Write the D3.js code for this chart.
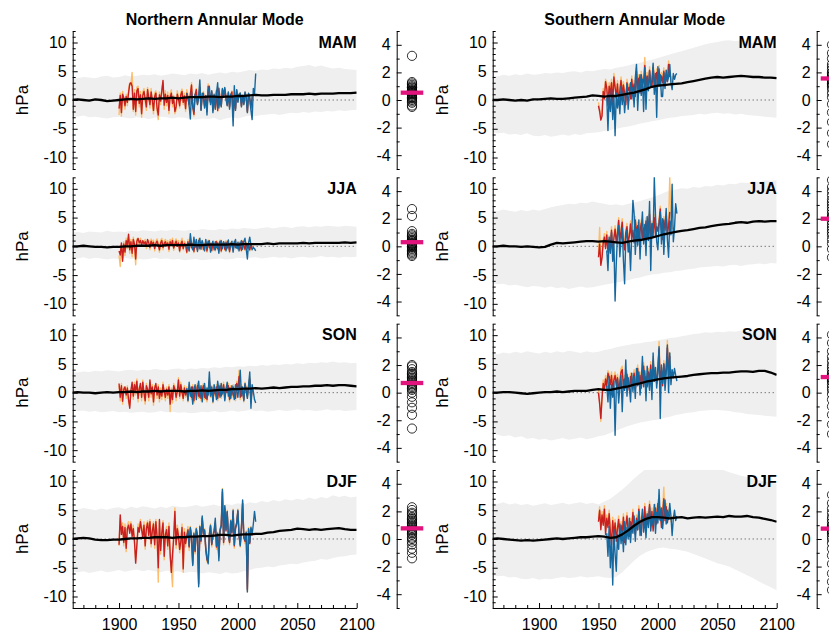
<!DOCTYPE html>
<html>
<head>
<meta charset="utf-8">
<script src="https://cdn.jsdelivr.net/npm/d3@7"></script>
<style>
body { margin: 0; background: #fff; }
text { font-family: "Liberation Sans", Arial, sans-serif; }
</style>
</head>
<body>
<script>
// ---- labels ----
var modes = ['Northern Annular Mode', 'Southern Annular Mode'];
var seasons = ['MAM', 'JJA', 'SON', 'DJF'];
var xTickLabels = [1900, 1950, 2000, 2050, 2100];

// model envelope / ensemble mean, every 5 years 1860..2100
var envYears = d3.range(1860, 2101, 5);

// start years of observed series
var namRedStart = 1900, namBlueStart = 1957;
var samRedStart = 1950, samBlueStart = 1957;

// ---------- NAM MAM ----------
var namMamMean = [0.0,0.1,0.0,-0.1,0.1,0.0,-0.2,-0.1,0.0,0.1, 0.2,0.1,0.2,0.3,0.2,0.3,0.3,0.4,0.3,0.4, 0.5,0.5,0.5,0.6,0.6,0.5,0.6,0.6,0.7,0.7, 0.8,0.9,0.8,0.8,0.9,0.9,0.9,1.0,1.0,1.0, 1.1,1.0,1.1,1.1,1.1,1.2,1.2,1.2,1.3];
var namMamUpper = [3.9,3.8,4.0,3.9,3.8,4.1,4.2,3.9,4.0,4.3, 4.1,4.2,4.4,4.3,4.5,4.2,4.4,4.6,4.5,4.3, 4.6,4.5,4.7,4.4,4.6,4.8,4.6,4.9,4.8,5.0, 5.2,5.1,5.3,5.2,5.5,5.4,5.6,5.5,5.8,5.9, 6.1,5.8,6.0,5.7,5.5,5.6,5.4,5.3,5.2];
var namMamLower = [-2.8,-2.9,-2.7,-3.0,-2.9,-3.1,-3.2,-3.0,-2.9,-3.1, -3.2,-3.0,-3.1,-3.3,-3.1,-2.9,-3.0,-3.2,-3.0,-3.1, -3.3,-3.4,-3.2,-3.3,-3.1,-3.5,-3.2,-3.0,-3.2,-2.9, -2.7,-2.8,-2.6,-2.5,-2.4,-2.6,-2.4,-2.2,-2.3,-2.1, -2.2,-2.0,-2.1,-1.9,-2.0,-1.8,-1.9,-1.8,-1.7];
var namMamRed = [-1.5,0.8,-2.2,1.0,0.4,-1.0,0.6,-0.4,1.2,2.8, 3.0,2.4,-1.6,1.2,-2.0,1.6,2.0,-0.6,0.9,-2.4, 0.8,1.5,0.2,-1.2,1.8,0.4,-0.8,1.4,0.0,-1.8, 0.6,1.2,-1.4,-2.6,0.9,-0.2,1.6,3.4,-0.9,1.0, -0.4,0.8,-1.8,0.5,1.2,-0.6,0.3,-2.0,-1.2,1.0, 0.2,-1.0,0.9,1.5,-0.4,0.7,-1.5,1.2,0.3,-0.8, 1.0,2.6,-1.0,-2.5,0.8,1.8,-0.6,0.4,2.2,-1.6, 0.6,1.2,-1.0,0.5,-2.0,2.4,0.2,-0.5,1.4,-1.8, 0.8,-1.4,1.6,-1.8,2.0,0.2,-1.0,1.8,0.6,1.8, 0.4,-0.8,1.2,-1.2,0.8,1.4,-2.8,0.6,-1.5,1.6, -0.2,0.8,1.0,-1.0,0.6,-0.6,1.2,0.4,-2.0,1.0, 0.2,-1.4,0.6];
var namMamOrange = [-2.6,1.2,-2.8,1.5,0.0,-1.6,1.0,-1.0,1.8,3.0, 2.6,4.8,-2.0,1.8,-2.6,2.2,2.4,-1.2,1.5,-3.0, 1.4,2.0,-0.4,-1.8,2.2,1.0,-1.4,2.0,-0.6,-2.4, 1.2,1.6,-2.0,-3.4,1.4,-0.8,2.0,3.0,-1.6,1.6, -1.0,1.4,-2.4,1.0,1.8,-1.2,0.8,-2.4,-1.8,1.6, 0.6,-1.4,1.4,1.9,-0.8,1.2,-2.0,1.8,0.8,-1.2, 1.2,3.0,-1.2,-2.8,1.0,2.0,-0.8,0.6,2.8,-1.8, 0.8,1.5,-1.2,0.6,-2.2,2.8,0.4,-0.6,1.6,-2.0, 1.0,-1.6,1.8,-2.0,2.2,0.4,-1.2,2.0,0.8,2.0, 0.6,-1.0,1.4,-1.4,1.0,1.6,-3.0,0.8,-1.7,1.8, 0.0,1.0,1.2,-1.2,0.8,-0.8,1.4,0.6,-2.2,1.2, 0.4,-1.6,0.8];
var namMamBlue = [1.2,0.4,-1.0,-3.3,1.4,-1.2,-2.0,1.0,0.6,-0.8, 0.6,3.5,-1.8,1.2,0.4,-1.4,0.8,-2.6,1.6,2.4, -0.8,1.6,-2.2,1.0,-1.6,1.2,3.0,-1.4,0.2,-1.2, 2.0,0.8,2.2,0.2,-1.0,1.4,-1.6,1.0,0.6,-4.5, 2.5,-1.8,1.8,-0.4,1.0,1.2,-1.2,0.8,-0.8,1.4, 0.6,-2.2,1.2,0.4,-1.8,-3.4,2.0,1.0,4.6];
var namMamModels = [3.2,1.3,1.2,1.1,1.0,0.9,0.9,0.8,0.7,0.7,0.6,0.6,0.5,0.5,0.4,0.4,0.3,0.2,0.2,0.1,0.0,-0.1,-0.2,-0.4,-0.5];

// ---------- NAM JJA ----------
var namJjaMean = [0.0,0.0,0.1,0.0,-0.1,-0.1,-0.2,-0.1,-0.1,0.0, 0.0,0.1,0.1,0.1,0.2,0.1,0.2,0.2,0.2,0.2, 0.3,0.2,0.2,0.3,0.3,0.3,0.3,0.4,0.3,0.4, 0.4,0.4,0.4,0.5,0.4,0.5,0.5,0.5,0.5,0.6, 0.5,0.6,0.6,0.6,0.6,0.6,0.7,0.6,0.7];
var namJjaUpper = [2.4,2.5,2.3,2.6,2.5,2.4,2.7,2.5,2.6,2.5, 2.7,2.6,2.8,2.7,2.6,2.8,2.7,2.9,2.8,2.7, 2.9,2.8,3.0,2.9,2.8,3.0,2.9,3.1,3.0,3.2, 3.1,3.0,3.2,3.3,3.1,3.3,3.4,3.2,3.4,3.5, 3.3,3.5,3.4,3.6,3.5,3.4,3.6,3.5,3.4];
var namJjaLower = [-2.0,-2.1,-1.9,-2.2,-2.0,-2.1,-2.3,-2.1,-2.2,-2.0, -2.2,-2.1,-2.3,-2.2,-2.0,-2.2,-2.1,-2.3,-2.2,-2.4, -2.3,-2.2,-2.4,-2.3,-2.2,-2.1,-2.3,-2.2,-2.0,-2.1, -2.0,-1.9,-2.1,-2.0,-1.8,-2.0,-1.9,-2.1,-1.9,-1.8, -2.0,-1.9,-1.7,-1.9,-1.8,-2.0,-1.8,-1.9,-1.8];
var namJjaRed = [-0.8,-1.5,0.6,-2.6,0.4,-1.0,1.0,0.2,2.1,-0.6, 0.8,-1.2,1.2,0.4,-2.2,0.9,1.4,0.6,1.0,0.2, 1.0,0.4,0.8,0.0,1.2,0.6,-0.2,0.9,0.3,0.7, -0.4,0.5,0.9,0.2,-0.6,0.6,1.0,-0.2,0.5,0.8, 0.1,0.6,-0.5,0.8,0.2,1.0,-0.3,0.4,0.9,0.0, 0.6,-0.8,0.4,0.9,-0.4,0.5,0.2,-1.0,0.8,-0.6, 1.0,-0.2,0.4,-0.9,0.6,0.2,-0.6,1.0,-0.4,0.3, 0.8,-0.5,0.2,0.6,-0.8,0.9,-0.2,0.4,-0.7,0.5, 0.1,-0.6,0.8,-0.4,0.3,0.9,-0.8,0.2,0.6,-0.5, 0.7,-0.3,0.4,-0.9,0.5,0.1,-0.6,0.8,-0.2,0.3, -0.4,0.6,0.0,-0.7,0.8,0.2,-0.5,0.5,-0.3,0.4, -0.6,0.2,-0.2];
var namJjaOrange = [-1.6,-3.5,0.2,-2.2,0.8,-1.6,1.4,-0.4,1.6,-1.2, 1.2,-1.8,1.6,-0.2,-3.2,1.3,1.0,0.2,1.4,0.6, 0.6,0.8,1.2,-0.4,0.8,1.0,-0.6,1.3,0.7,1.1, -0.8,0.9,1.3,0.6,-1.0,1.0,1.4,-0.6,0.9,1.2, 0.5,1.0,-0.9,1.2,0.6,1.4,-0.7,0.8,1.3,0.4, 1.0,-1.0,0.8,1.4,-0.6,0.9,0.6,-1.2,1.2,-0.8, 1.2,-0.4,0.6,-1.1,0.9,0.4,-0.8,1.3,-0.6,0.5, 1.0,-0.7,0.4,0.8,-1.0,1.1,-0.4,0.6,-0.9,0.7, 0.3,-0.8,1.0,-0.6,0.5,1.1,-1.0,0.4,0.8,-0.7, 1.0,-0.5,0.6,-1.1,0.7,0.3,-0.8,1.0,-0.4,0.5, -0.6,0.8,0.2,-0.9,1.0,0.4,-0.7,0.7,-0.5,0.6, -0.8,0.4,0.0];
var namJjaBlue = [-0.4,0.6,-0.8,2.2,0.4,-0.6,1.6,-0.2,1.2,-0.9, 0.8,1.4,-0.5,1.0,0.2,-0.8,1.2,-0.4,0.6,1.0, -1.0,0.4,0.9,-0.6,0.8,-0.2,0.6,-1.2,0.5,1.0, -0.4,0.8,0.2,-0.8,0.6,1.1,-0.6,0.4,0.9,-1.0, 0.5,1.2,-0.3,0.7,-0.8,0.4,1.0,-0.5,0.8,1.4, -0.4,-2.2,0.6,1.6,0.2,-0.6,-0.2,-0.4,-0.8];
var namJjaModels = [2.7,2.2,1.1,0.9,0.8,0.7,0.6,0.5,0.4,0.4,0.3,0.2,0.2,0.1,0.1,0.0,0.0,-0.1,-0.2,-0.3,-0.4,-0.5,-0.6,-0.7];

// ---------- NAM SON ----------
var namSonMean = [0.0,0.1,0.0,0.0,-0.1,0.0,0.1,0.0,0.1,0.1, 0.2,0.1,0.2,0.2,0.3,0.2,0.3,0.3,0.3,0.2, 0.3,0.3,0.4,0.3,0.4,0.5,0.5,0.6,0.6,0.7, 0.7,0.8,0.7,0.8,0.9,0.8,0.9,1.0,1.0,1.1, 1.1,1.2,1.2,1.3,1.2,1.3,1.3,1.2,1.1];
var namSonUpper = [3.6,3.5,3.7,3.6,3.8,3.7,3.9,3.8,3.7,3.9, 4.0,3.8,4.0,3.9,4.1,4.0,3.9,4.1,4.2,4.0, 4.2,4.1,4.3,4.2,4.4,4.3,4.5,4.4,4.6,4.5, 4.7,4.6,4.8,4.7,4.9,4.8,5.0,4.9,5.1,5.0, 5.2,5.1,5.3,5.2,5.4,5.2,5.3,5.1,5.2];
var namSonLower = [-3.0,-3.2,-3.1,-3.3,-3.2,-3.4,-3.3,-3.2,-3.4,-3.3, -3.5,-3.4,-3.3,-3.5,-3.4,-3.2,-3.4,-3.3,-3.5,-3.4, -3.6,-3.5,-3.3,-3.4,-3.2,-3.4,-3.3,-3.1,-3.3,-3.2, -3.0,-3.2,-3.1,-3.3,-3.2,-3.0,-3.2,-3.1,-2.9,-3.1, -3.0,-3.2,-3.1,-2.9,-3.1,-3.0,-3.2,-3.1,-3.0];
var namSonRed = [1.6,-0.8,1.2,-1.5,0.6,1.0,-0.4,0.8,-1.2,-2.7, 0.4,1.8,-0.6,1.4,0.2,2.0,-1.0,0.6,1.6,-0.8, 1.8,0.0,-1.4,1.2,0.6,-0.8,2.2,-0.2,1.0,-1.6, 0.8,1.6,-0.4,1.0,-1.0,0.4,-0.6,1.4,0.2,-0.8, 0.6,-0.4,1.0,-2.0,0.4,-1.2,1.2,0.6,-0.8,0.2, 2.2,-0.6,1.4,0.0,-1.0,0.8,-0.4,0.6,-1.2,1.0, 0.2,-0.8,1.0,-1.4,0.6,0.0,1.2,-0.6,0.8,-1.0, 0.4,1.2,-0.8,0.6,-1.2,0.2,2.0,-0.4,0.8,-1.4, 0.6,-0.2,1.0,-1.0,0.4,1.2,-0.6,0.2,1.4,-0.8, 0.6,0.0,1.2,-1.2,0.8,-0.4,1.0,0.2,-1.0,1.6, 0.4,2.8,-0.8,1.0,0.2,-1.2,1.4,0.6,-0.6,1.0, 2.4,-1.4,0.6];
var namSonOrange = [1.2,-1.4,1.6,-2.0,1.0,0.6,-1.0,1.2,-1.8,-2.2, 0.0,1.4,-1.2,1.8,-0.4,2.4,-1.6,1.0,1.2,-1.4, 2.2,-0.6,-2.0,1.6,0.2,-1.4,1.8,-0.8,1.4,-2.2, 1.2,1.2,-1.0,1.4,-1.6,0.8,-1.2,1.8,-0.4,-1.4, 1.0,-1.0,1.4,-3.3,0.8,-1.8,1.6,1.0,-1.4,0.6, 2.6,-1.0,1.8,0.4,-1.4,1.2,-0.8,1.0,-1.6,1.4, 0.6,-1.2,1.4,-1.8,1.0,0.4,1.6,-1.0,1.2,-1.4, 0.8,1.6,-1.2,1.0,-1.6,0.6,2.6,-0.8,1.2,-1.8, 1.0,-0.6,1.4,-1.4,0.8,1.6,-1.0,0.6,1.8,-1.2, 1.0,0.4,1.6,-1.6,1.2,-0.8,1.4,0.6,-1.4,2.0, 0.8,3.9,-1.2,1.4,0.6,-1.6,1.8,1.0,-1.0,1.4, 2.8,-1.8,1.0];
var namSonBlue = [0.8,-1.4,1.8,-0.6,1.0,-2.0,0.4,1.4,-1.2,0.6, 2.0,-0.8,1.2,-1.6,0.4,1.6,-1.0,0.8,-0.4,3.6, -0.6,1.0,-1.6,1.4,0.2,-1.2,2.0,0.4,-0.8,1.6, -0.2,1.0,-1.4,0.6,1.8,-0.6,0.8,-1.0,1.2,0.0, -1.2,1.4,0.4,-0.8,1.2,3.9,-0.6,1.0,-1.4,1.6, 0.2,-1.0,1.2,3.6,-2.7,1.4,0.2,-1.2,-1.8];
var namSonModels = [2.0,1.9,1.7,1.5,1.4,1.3,1.2,1.1,1.0,0.9,0.8,0.7,0.6,0.5,0.4,0.3,0.2,0.0,-0.3,-0.7,-1.1,-1.6,-2.6];

// ---------- NAM DJF ----------
var namDjfMean = [0.0,0.1,0.2,0.1,-0.1,-0.2,-0.2,-0.1,-0.1,0.0, 0.1,0.1,0.2,0.2,0.3,0.3,0.3,0.2,0.3,0.3, 0.4,0.4,0.5,0.5,0.6,0.7,0.7,0.6,0.7,0.8, 0.8,0.9,0.9,1.1,1.2,1.4,1.5,1.6,1.8,1.7, 1.6,1.7,1.6,1.7,1.8,1.9,1.7,1.6,1.6];
var namDjfUpper = [5.3,5.1,5.4,5.2,5.0,5.3,5.1,5.4,5.5,5.2, 5.6,5.4,5.7,5.5,5.3,5.6,5.4,5.8,5.6,5.5, 5.7,5.9,5.6,5.8,6.0,5.7,6.1,5.9,6.2,6.0, 6.4,6.2,6.6,6.4,6.8,6.5,6.9,6.7,7.0,6.8, 7.2,6.9,7.3,7.1,7.6,7.3,7.5,7.2,7.4];
var namDjfLower = [-5.7,-5.8,-5.6,-5.9,-5.7,-5.5,-5.8,-5.6,-5.4,-5.7, -5.5,-5.3,-5.6,-5.4,-5.6,-5.8,-5.5,-5.7,-5.6,-5.9, -5.7,-5.8,-6.0,-5.8,-5.9,-6.1,-5.8,-6.0,-5.9,-5.6, -5.4,-5.1,-5.0,-4.8,-4.9,-4.6,-4.5,-4.3,-4.4,-4.1, -3.9,-3.8,-3.5,-3.6,-3.3,-3.1,-3.0,-2.8,-2.7];
var namDjfRed = [-1.0,4.2,0.8,2.2,-0.6,2.0,-1.6,1.8,2.4,1.0, 2.6,0.4,1.8,-0.4,-4.2,-1.0,2.0,1.2,3.0,1.6, 0.2,2.4,-1.2,1.8,2.8,0.6,3.0,-0.8,1.4,2.6, -1.0,3.0,0.4,-5.0,3.4,-2.0,1.0,2.8,-3.0,0.8, 1.6,-1.2,2.2,-2.6,-5.8,-2.6,0.2,4.8,-1.0,1.8, 0.6,-1.8,-0.4,2.0,-5.2,1.2,-0.8,0.4,1.6,-1.4, 1.8,0.2,-4.4,0.8,-2.2,1.6,0.4,-7.8,2.0,-0.4, 3.6,0.8,1.4,-1.8,-3.6,-4.0,0.6,2.2,-1.0,0.4, 1.2,2.8,-1.4,0.8,-3.0,1.4,2.2,8.2,-0.6,5.4, 1.4,4.6,0.6,-0.6,3.0,1.0,4.8,-1.2,1.8,2.6, 4.8,0.4,-1.0,1.8,6.2,0.2,-0.4,1.0,-8.8,1.6, -0.8,1.8,0.6];
var namDjfOrange = [-1.2,3.6,1.6,2.8,-1.2,2.6,-2.2,2.4,3.0,1.6, 3.0,1.0,2.4,-1.0,-3.6,-1.6,2.6,1.8,3.4,2.2, 0.8,3.0,-1.8,2.4,3.2,1.2,3.4,-1.4,2.0,3.0, -1.6,3.4,1.0,-7.5,3.0,-2.6,1.6,3.2,-3.6,1.4, 2.2,-1.8,2.8,-3.2,-5.4,-8.3,0.8,5.4,-1.6,2.4, 1.2,-2.4,-1.0,2.6,-5.8,1.8,-1.4,1.0,2.2,-2.0, 2.2,0.6,-4.0,1.2,-2.6,2.0,0.8,-8.0,2.4,-0.8, 3.8,1.2,1.8,-2.2,-4.0,-3.6,1.0,2.6,-1.4,0.8, 1.6,3.2,-1.8,1.2,-3.4,1.8,2.6,8.8,-1.0,5.8, 1.8,5.0,1.0,-1.0,3.4,1.4,5.2,-1.6,2.2,3.0, 5.2,0.8,-1.4,2.2,6.6,0.6,-0.8,1.4,-9.2,2.0, -0.4,2.2,1.0];
var namDjfBlue = [0.2,1.4,-1.2,2.0,0.4,-4.6,1.0,-2.0,1.8,0.6, -8.3,2.2,-0.2,4.0,1.0,1.6,-1.6,-3.4,-4.3,0.8, 2.4,-0.8,0.6,1.4,3.6,-1.2,1.0,-3.8,1.6,2.4, 8.6,-0.4,5.8,1.6,4.8,0.8,-0.4,3.2,1.2,5.0, -1.0,2.0,2.8,5.0,0.6,-1.2,2.0,6.8,0.4,-0.2, 1.2,-9.2,1.8,-0.6,2.0,0.8,2.6,4.8,3.0];
var namDjfModels = [2.3,2.1,1.9,1.8,1.6,1.5,1.4,1.3,1.2,1.1,1.0,0.9,0.8,0.7,0.6,0.5,0.4,0.3,0.1,0.0,-0.2,-0.4,-0.7,-1.0,-1.4];

// ---------- SAM MAM ----------
var samMamMean = [0.0,0.0,0.1,0.0,-0.1,0.0,-0.1,0.1,0.1,0.2, 0.3,0.2,0.2,0.3,0.4,0.5,0.6,0.8,0.7,0.6, 0.7,0.7,0.9,1.1,1.3,1.6,1.9,2.3,2.5,2.6, 2.7,2.8,2.9,3.1,3.3,3.5,3.7,3.9,4.0,3.9, 4.0,4.1,4.2,4.1,4.0,4.0,3.9,3.9,3.8];
var samMamUpper = [4.3,4.1,4.4,4.2,4.5,4.3,4.6,4.4,4.5,4.7, 4.6,4.8,4.7,4.9,5.0,4.8,5.1,5.0,5.2,5.4, 5.3,5.6,5.8,6.0,6.3,6.5,6.8,7.0,7.3,7.6, 7.9,8.2,8.5,8.8,9.1,9.4,9.7,9.9,10.1,10.3, 10.4,10.2,10.4,10.1,9.9,9.7,9.6,9.4,9.2];
var samMamLower = [-5.6,-5.8,-5.7,-6.0,-5.9,-6.1,-5.8,-6.2,-6.3,-6.1, -6.4,-6.2,-6.0,-6.2,-5.9,-6.1,-5.8,-5.7,-5.6,-5.4, -5.2,-5.0,-4.8,-4.6,-4.4,-4.1,-3.9,-3.7,-3.5,-3.3, -3.1,-3.0,-2.8,-2.7,-2.6,-2.4,-2.5,-2.3,-2.2,-2.4, -2.3,-2.5,-2.4,-2.6,-2.7,-2.8,-2.9,-3.0,-3.1];
var samMamRed = [-1.0,-2.0,-3.5,-2.8,1.5,0.2,3.2,2.0,-1.0,2.4, 1.0,3.0,-0.6,4.0,2.2,0.4,2.8,-0.4,1.6,3.4, 0.8,2.6,1.2,-0.8,3.0,1.6,2.2,0.2,3.6,1.4, 2.8,0.6,5.0,2.0,3.8,1.2,4.4,2.6,3.2,6.0, 2.4,4.2,1.8,5.2,3.0,2.2,5.6,3.6,2.0,4.8, 3.4,5.4,2.6,4.2,3.0,5.0,2.4,4.6,3.2,6.2, 4.0];
var samMamOrange = [-0.4,-1.6,-3.0,-2.2,2.0,0.8,3.6,2.6,-0.4,3.0, 1.6,3.6,0.0,4.6,2.8,1.0,3.4,0.2,2.2,4.0, 1.4,3.2,1.8,-0.2,3.6,2.2,2.8,0.8,4.2,2.0, 3.4,1.2,5.6,2.6,4.4,1.8,5.0,3.2,3.8,7.4, 3.0,4.8,2.4,5.8,3.6,2.8,6.2,4.2,2.6,5.4, 4.0,6.0,3.2,4.8,3.6,5.6,3.0,5.2,3.8,6.8, 4.6,3.0,4.2];
var samMamBlue = [0.4,-5.3,1.0,-2.0,1.8,-3.4,0.8,-6.2,1.2,-1.4, 0.6,-2.4,2.4,-0.8,1.6,-2.2,0.4,2.8,-1.6,1.4, 3.0,0.2,2.2,-1.2,3.8,6.2,-1.8,2.6,4.4,0.8, 3.6,-2.0,5.6,-1.6,4.0,1.6,5.0,2.2,3.4,6.4, 1.0,4.6,-3.0,5.8,2.4,4.4,0.6,0.6,4.8,2.0, 5.2,3.2,4.0,6.2,3.0,1.8,4.6,3.6,4.4,4.6];
var samMamModels = [4.0,3.4,3.0,2.6,2.4,2.2,2.0,1.9,1.8,1.7,1.6,1.5,1.4,1.3,1.2,1.1,1.0,0.8,0.5,0.2,-0.3,-0.9,-1.6,-2.4,-3.2];

// ---------- SAM JJA ----------
var samJjaMean = [0.0,0.0,0.1,0.0,0.0,-0.1,0.0,-0.1,-0.2,-0.1, 0.3,0.6,0.5,0.6,0.7,0.8,0.9,0.9,0.8,0.9, 0.8,0.7,0.6,0.8,1.0,1.1,1.3,1.5,1.8,2.1, 2.3,2.5,2.7,2.8,3.0,3.2,3.3,3.5,3.7,3.8, 3.9,4.1,4.2,4.1,4.3,4.4,4.3,4.4,4.4];
var samJjaUpper = [6.3,6.1,6.4,6.2,6.0,6.3,6.1,6.4,6.2,6.5, 6.8,7.0,7.2,7.4,7.3,7.6,7.5,7.8,7.6,7.4, 7.2,7.3,7.1,7.4,7.6,7.9,8.2,8.5,8.9,9.3, 9.7,9.9,10.1,10.0,10.3,10.2,10.5,10.4,10.7,10.6, 10.9,10.8,11.1,11.0,11.3,11.2,11.5,11.4,11.5];
var samJjaLower = [-6.4,-6.6,-6.5,-6.8,-6.7,-6.9,-7.1,-6.9,-7.0,-7.2, -7.0,-7.3,-7.1,-7.4,-7.2,-7.0,-7.2,-7.1,-6.9,-6.7, -6.5,-6.3,-6.1,-5.9,-5.6,-5.4,-5.1,-4.9,-4.8,-4.6, -4.5,-4.3,-4.2,-4.0,-3.9,-3.7,-3.6,-3.5,-3.4,-3.5, -3.3,-3.2,-3.4,-3.2,-3.1,-3.0,-3.1,-2.9,-3.0];
var samJjaRed = [-1.9,0.4,-3.3,-2.0,0.6,1.6,-0.4,2.0,-1.0,1.2, 0.2,2.8,-0.8,1.4,3.0,0.6,2.2,4.5,1.0,2.6, 4.2,0.8,-0.6,2.4,3.4,0.4,1.8,3.9,1.2,2.8, 0.6,4.6,2.2,3.6,1.0,2.6,4.0,1.4,3.2,2.0, 4.4,1.6,3.0,5.6,0.8,3.8,2.4,5.0,1.8,3.4, 2.6,4.2,6.5,3.0,1.2,4.6,2.8,5.2,2.0,3.6, 6.0];
var samJjaOrange = [-1.2,3.3,-2.8,-1.4,1.2,2.2,0.2,2.6,-0.4,1.8, 0.8,3.4,-0.2,2.0,3.6,1.2,2.8,5.0,1.6,3.2, 4.8,1.4,0.0,3.0,4.0,1.0,2.4,4.4,1.8,3.4, 1.2,5.2,2.8,4.2,1.6,3.2,4.6,2.0,3.8,2.6, 5.0,2.2,3.6,6.2,1.4,4.4,3.0,5.6,2.4,4.0, 3.2,4.8,7.0,3.6,1.8,5.2,3.4,5.8,2.6,4.2, 12.0,5.0,3.0];
var samJjaBlue = [-0.7,-4.2,1.6,-1.2,2.4,-2.6,0.8,-9.5,-3.0,2.0, 3.6,-1.8,1.2,3.2,-2.4,-6.5,1.4,2.8,-1.0,0.6, -4.2,2.0,8.0,5.7,-1.4,3.0,0.2,4.6,-2.2,2.8, 6.0,0.4,3.8,-1.6,5.2,1.0,7.8,-4.2,4.0,1.6, 12.0,5.4,0.8,-0.6,3.6,6.0,0.4,4.8,-1.4,3.2, 6.6,1.2,-1.9,4.4,2.0,10.8,0.8,3.2,7.4,5.7];
var samJjaModels = [4.8,4.3,4.0,3.7,3.4,3.2,3.0,2.8,2.6,2.4,2.2,2.1,2.0,1.8,1.6,1.4,1.2,1.0,0.8,0.5,0.2,-0.2,-0.8];

// ---------- SAM SON ----------
var samSonMean = [0.0,0.0,0.1,0.1,0.0,-0.1,-0.2,-0.1,0.0,0.1, 0.1,0.2,0.1,0.2,0.3,0.3,0.3,0.5,0.6,0.5, 0.5,0.7,0.9,1.1,1.4,1.6,1.9,2.1,2.3,2.5, 2.6,2.7,2.8,2.9,3.1,3.2,3.3,3.4,3.4,3.5, 3.5,3.6,3.7,3.7,3.6,3.8,3.8,3.5,3.1];
var samSonUpper = [6.9,6.7,7.0,6.8,7.1,6.9,7.2,7.0,6.8,7.1, 6.9,7.2,7.0,7.3,7.1,6.9,7.2,7.0,7.1,7.4, 7.6,7.9,8.1,8.3,8.5,8.6,8.8,8.9,9.1,9.3, 9.5,9.6,9.8,10.0,10.2,10.3,10.5,10.4,10.6,10.5, 10.7,10.6,10.8,10.7,10.9,10.8,10.7,10.9,10.8];
var samSonLower = [-7.0,-7.3,-7.6,-7.4,-7.8,-7.6,-8.0,-7.9,-8.2,-8.0, -8.3,-8.1,-7.9,-8.2,-8.0,-7.8,-8.1,-7.9,-7.6,-7.4, -7.0,-6.6,-6.2,-5.8,-5.5,-5.2,-5.0,-4.8,-4.7,-4.4, -4.2,-3.9,-3.7,-3.5,-3.4,-3.2,-3.1,-3.0,-3.0,-3.1, -3.2,-3.4,-3.5,-3.7,-3.8,-3.9,-4.0,-4.1,-4.2];
var samSonRed = [0.0,-2.0,-4.5,-1.0,1.6,0.4,2.4,1.0,3.4,2.6, 1.4,3.0,0.2,2.2,3.0,1.2,2.6,0.6,1.8,3.6, 4.0,1.0,2.4,0.8,3.2,1.6,0.4,2.8,1.2,2.2, 3.4,0.6,2.0,4.2,1.4,3.0,0.8,2.4,4.6,1.8, 2.8,1.0,3.6,2.2,4.8,1.4,5.6,2.0,3.2,1.6, 4.2,7.6,2.4,3.8,1.2,5.0,2.6,4.4,7.8,3.0, 6.4];
var samSonOrange = [0.6,-1.4,-5.0,-0.4,2.2,1.0,3.0,1.6,3.8,3.2, 2.0,3.6,0.8,2.8,3.6,1.8,3.2,1.2,2.4,4.2, 4.6,1.6,3.0,1.4,3.8,2.2,1.0,3.4,1.8,2.8, 4.0,1.2,2.6,4.8,2.0,3.6,1.4,3.0,5.2,2.4, 3.4,1.6,4.2,2.8,5.4,2.0,6.2,2.6,3.8,2.2, 4.8,8.9,3.0,4.4,1.8,5.6,3.2,5.0,9.1,3.6, 7.0,2.6,4.0];
var samSonBlue = [1.2,-1.6,2.8,-2.7,1.4,-0.8,2.0,-7.4,0.6,2.4, -1.8,1.0,3.0,-3.3,2.2,0.4,5.7,-0.6,2.6,1.0, -1.6,3.4,0.2,2.8,-1.0,4.2,1.2,3.6,-0.4,2.0, 6.3,1.0,3.8,-1.4,4.6,2.2,0.4,4.0,-1.2,6.9, 2.0,4.4,0.8,3.6,8.0,-4.5,4.8,1.6,5.0,0.4, 3.2,8.3,0.0,6.9,1.4,4.0,2.6,4.2,3.0,2.0];
var samSonModels = [4.2,3.6,3.0,2.6,2.3,2.0,1.8,1.6,1.4,1.3,1.2,1.1,1.0,0.9,0.8,0.6,0.4,0.2,-0.1,-0.5,-1.0,-1.6,-2.3,-3.0];

// ---------- SAM DJF ----------
var samDjfMean = [0.0,0.1,0.0,-0.1,-0.2,-0.3,-0.2,-0.3,-0.2,-0.1, 0.0,0.1,0.0,0.1,0.2,0.3,0.3,0.4,0.5,0.4, 0.2,0.3,0.8,1.5,2.3,3.0,3.5,3.8,3.8,3.7, 3.6,3.7,3.8,3.6,3.7,3.8,3.7,3.8,3.9,3.8, 4.0,3.9,3.9,4.0,3.8,3.7,3.5,3.3,3.0];
var samDjfUpper = [6.3,6.1,6.4,6.0,6.2,5.9,6.1,5.8,6.0,6.2, 5.9,6.1,6.3,6.0,6.2,6.4,6.1,6.3,6.0,6.5, 7.0,7.8,8.6,9.5,10.5,11.4,12.2,12.8,13.0,12.9, 13.1,12.8,12.9,12.7,12.6,12.5,12.3,12.4,12.2,12.0, 11.6,11.3,11.0,10.8,10.5,10.2,10.0,9.8,9.6];
var samDjfLower = [-6.3,-6.5,-6.4,-6.7,-6.6,-6.9,-7.0,-6.8,-7.1,-6.9, -7.0,-6.8,-6.6,-6.8,-6.7,-6.5,-6.7,-6.6,-6.5,-6.7, -6.8,-6.6,-5.8,-4.8,-3.8,-2.9,-2.3,-1.9,-1.6,-1.5, -1.7,-1.8,-2.0,-2.2,-2.6,-3.0,-3.4,-3.8,-4.2,-4.5, -4.8,-5.3,-5.8,-6.3,-6.8,-7.4,-7.9,-8.4,-8.9];
var samDjfRed = [3.0,5.0,1.6,4.2,2.4,5.2,0.8,3.6,2.0,4.4, 1.2,-1.0,3.2,0.6,2.8,-0.4,1.8,3.4,0.2,2.4, 1.0,3.8,-0.6,2.2,4.0,1.4,0.4,3.0,1.8,4.6, 2.0,0.8,3.6,1.6,5.2,2.4,0.6,4.0,2.8,5.6, 1.8,4.2,3.0,6.0,2.2,4.8,1.4,3.6,5.4,2.6, 6.2,3.4,5.0,2.0,4.4,7.0,3.2,5.6,2.8,4.6, 3.8];
var samDjfOrange = [3.6,5.6,2.2,4.8,3.0,5.8,1.4,4.2,2.6,5.0, 1.8,-0.4,3.8,1.2,3.4,0.2,2.4,4.0,0.8,3.0, 1.6,4.4,0.0,2.8,4.6,2.0,1.0,3.6,2.4,5.2, 2.6,1.4,4.2,2.2,5.8,3.0,1.2,4.6,3.4,6.2, 2.4,4.8,3.6,6.6,2.8,5.4,2.0,4.2,6.0,3.2, 6.8,4.0,5.6,2.6,5.0,9.0,3.8,6.2,3.4,5.2, 4.4,3.0,4.0];
var samDjfBlue = [1.0,-3.0,2.2,-5.0,0.4,-8.0,1.6,-2.6,-5.6,0.8, -1.8,2.6,-0.8,1.4,-2.2,3.0,-1.0,2.0,0.0,3.6, -0.6,2.4,1.0,4.0,-0.4,3.2,1.6,4.8,0.6,2.8, 5.2,1.2,3.6,0.2,4.4,2.0,5.6,1.4,3.8,2.4, 6.0,1.0,4.6,2.8,8.6,3.2,5.4,1.8,4.2,6.8, 2.6,5.0,3.4,6.2,4.0,0.6,3.6,5.0,3.2,4.0];
var samDjfModels = [3.2,2.6,2.2,1.9,1.6,1.4,1.2,1.0,0.9,0.8,0.7,0.6,0.5,0.4,0.2,0.0,-0.3,-0.7,-1.2,-1.8,-2.5,-3.1,-3.7];

// ensemble-mean trend per season (magenta bars)
var namModelMean = [0.53, 0.3, 0.7, 0.77];
var samModelMean = [1.56, 2.0, 1.13, 0.75];

// ---- panel table built from the arrays above ----
var panels = [
  [namMamUpper, namMamLower, namMamMean, namMamOrange, namMamRed, namMamBlue, namMamModels],
  [namJjaUpper, namJjaLower, namJjaMean, namJjaOrange, namJjaRed, namJjaBlue, namJjaModels],
  [namSonUpper, namSonLower, namSonMean, namSonOrange, namSonRed, namSonBlue, namSonModels],
  [namDjfUpper, namDjfLower, namDjfMean, namDjfOrange, namDjfRed, namDjfBlue, namDjfModels],
  [samMamUpper, samMamLower, samMamMean, samMamOrange, samMamRed, samMamBlue, samMamModels],
  [samJjaUpper, samJjaLower, samJjaMean, samJjaOrange, samJjaRed, samJjaBlue, samJjaModels],
  [samSonUpper, samSonLower, samSonMean, samSonOrange, samSonRed, samSonBlue, samSonModels],
  [samDjfUpper, samDjfLower, samDjfMean, samDjfOrange, samDjfRed, samDjfBlue, samDjfModels]
].map(function (a, k) {
  var col = k < 4 ? 0 : 1;
  return {
    col: col, row: k % 4,
    upper: a[0], lower: a[1], mean: a[2],
    obs: [
      {vals: a[3], start: col ? samRedStart : namRedStart, color: '#fdbd6c'},
      {vals: a[4], start: col ? samRedStart : namRedStart, color: '#c8201f'},
      {vals: a[5], start: col ? samBlueStart : namBlueStart, color: '#16679e'}
    ],
    models: a[6],
    modelMean: (col ? samModelMean : namModelMean)[k % 4]
  };
});

// ---- layout ----
var rowTop = 31, rowStep = 146.33, rowH = 138, colShift = 420;
var fontFam = '"Liberation Sans", Arial, sans-serif';

var svg = d3.select('body').append('svg')
    .attr('width', 829)
    .attr('height', 636);

var x = d3.scaleLinear().domain([1861, 2100]).range([72.7, 356.7]);
var y = d3.scaleLinear().domain([-12, 12]).range([rowH, 0]);
var ys = d3.scaleLinear().domain([-5, 5]).range([rowH, 0]);
var sx = d3.scaleLinear().domain([0, 1]).range([400.7, 423.3]); // side panel
var sideAxisX = 396.7;

// titles
modes.forEach(function (m, c) {
  svg.append('text')
      .attr('x', (x.range()[0] + x.range()[1]) / 2 + c * colShift)
      .attr('y', 25)
      .attr('text-anchor', 'middle')
      .attr('font-size', 16)
      .attr('font-weight', 'bold')
      .text(m);
});

panels.forEach(function (p, k) {
  var g = svg.append('g')
      .attr('transform', 'translate(' + (p.col * colShift) + ',' + (rowTop + p.row * rowStep) + ')');

  var clipId = 'clip' + k;
  g.append('clipPath').attr('id', clipId)
    .append('rect')
      .attr('x', x.range()[0]).attr('y', 0)
      .attr('width', x.range()[1] - x.range()[0]).attr('height', rowH);
  var plot = g.append('g').attr('clip-path', 'url(#' + clipId + ')');

  var env = envYears.map(function (yr, i) {
    return {year: yr, lo: p.lower[i], hi: p.upper[i], mean: p.mean[i]};
  });

  // envelope
  plot.append('path').datum(env)
      .attr('d', d3.area()
        .x(function (d) { return x(d.year); })
        .y0(function (d) { return y(d.lo); })
        .y1(function (d) { return y(d.hi); }))
      .attr('fill', '#efefef');

  // dotted zero line
  plot.append('line')
      .attr('x1', x(1861)).attr('x2', x(2100))
      .attr('y1', y(0)).attr('y2', y(0))
      .attr('stroke', '#444')
      .attr('stroke-width', 1)
      .attr('stroke-dasharray', '1,3');

  // observations
  p.obs.forEach(function (s) {
    plot.append('path').datum(s.vals)
        .attr('d', d3.line()
          .x(function (d, i) { return x(s.start + i); })
          .y(function (d) { return y(d); }))
        .attr('fill', 'none')
        .attr('stroke', s.color)
        .attr('stroke-width', 1.4)
        .attr('stroke-linejoin', 'round');
  });

  // ensemble mean
  plot.append('path').datum(env)
      .attr('d', d3.line()
        .x(function (d) { return x(d.year); })
        .y(function (d) { return y(d.mean); }))
      .attr('fill', 'none')
      .attr('stroke', '#000')
      .attr('stroke-width', 2.3)
      .attr('stroke-linejoin', 'round');

  // y axis (ticks inside)
  var ya = g.append('g')
      .attr('transform', 'translate(' + x.range()[0] + ',0)')
      .call(d3.axisLeft(y)
        .tickValues(d3.range(-12, 13))
        .tickSizeInner(-3).tickSizeOuter(0).tickPadding(6)
        .tickFormat(function (d) { return (d % 5 === 0 && Math.abs(d) <= 10) ? String(d) : ''; }));
  ya.selectAll('.tick line').attr('x2', function (d) { return d % 5 === 0 ? 5 : 3; });
  ya.attr('font-size', 16).attr('font-family', fontFam);
  ya.selectAll('text').attr('fill', '#000');

  g.append('text')
      .attr('transform', 'translate(28.3,' + y(0) + ') rotate(-90)')
      .attr('text-anchor', 'middle')
      .attr('font-size', 17)
      .text('hPa');

  g.append('text')
      .attr('x', x.range()[1])
      .attr('y', 16.7)
      .attr('text-anchor', 'end')
      .attr('font-size', 16)
      .attr('font-weight', 'bold')
      .text(seasons[p.row]);

  // x axis on bottom row
  if (p.row === 3) {
    var xa = g.append('g')
        .attr('transform', 'translate(0,' + rowH + ')')
        .call(d3.axisBottom(x)
          .tickValues(d3.range(1870, 2101, 10))
          .tickSizeInner(-3).tickSizeOuter(0).tickPadding(11)
          .tickFormat(function (d) { return xTickLabels.indexOf(d) >= 0 ? String(d) : ''; }));
    xa.selectAll('.tick line').attr('y2', function (d) { return d % 50 === 0 ? -5 : -3; });
    xa.attr('font-size', 16).attr('font-family', fontFam);
    xa.selectAll('text').attr('fill', '#000');
  }

  // side panel: model trends
  var sa = g.append('g')
      .attr('transform', 'translate(' + sideAxisX + ',0)')
      .call(d3.axisLeft(ys)
        .tickValues(d3.range(-5, 6))
        .tickSizeInner(-3).tickSizeOuter(0).tickPadding(6)
        .tickFormat(function (d) { return (d % 2 === 0) ? String(d) : ''; }));
  sa.selectAll('.tick line').attr('x2', function (d) { return d % 2 === 0 ? 5 : 3; });
  sa.attr('font-size', 16).attr('font-family', fontFam);
  sa.selectAll('text').attr('fill', '#000');

  g.selectAll('circle.model')
      .data(p.models)
      .enter()
      .append('circle')
      .attr('class', 'model')
      .attr('cx', sx(0.5))
      .attr('cy', function (d) { return ys(d); })
      .attr('r', 4.6)
      .attr('fill', 'none')
      .attr('stroke', '#000')
      .attr('stroke-width', 0.8);

  g.append('line')
      .attr('x1', sx(0)).attr('x2', sx(1))
      .attr('y1', ys(p.modelMean)).attr('y2', ys(p.modelMean))
      .attr('stroke', '#e0147c')
      .attr('stroke-width', 4.3);
});
</script>
</body>
</html>
